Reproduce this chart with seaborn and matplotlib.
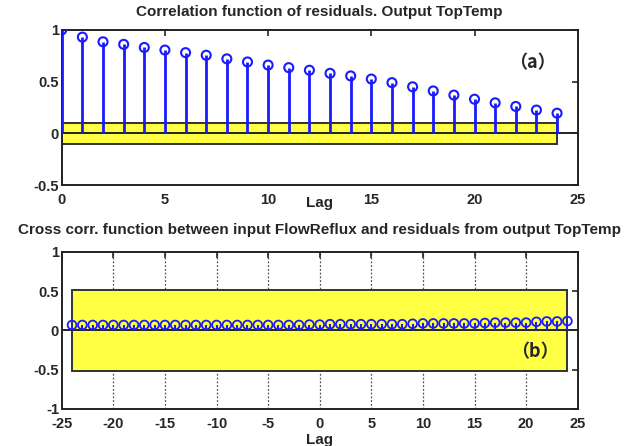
import numpy as np
import pandas as pd
import matplotlib
matplotlib.use("Agg")
import matplotlib.pyplot as plt
import seaborn as sns
from matplotlib.patches import Rectangle

sns.set_style("white")
plt.rcParams['font.family'] = ['Liberation Sans', 'DejaVu Sans']
plt.rcParams['font.weight'] = 'bold'

# --- data ---
lags_a = list(range(0, 25))
corr_a = [1.00, 0.93, 0.885, 0.86, 0.83, 0.805, 0.78, 0.755, 0.72, 0.69,
          0.66, 0.635, 0.61, 0.58, 0.555, 0.525, 0.49, 0.45, 0.41, 0.37,
          0.33, 0.295, 0.26, 0.225, 0.195]
conf_a = 0.1

lags_b = list(range(-24, 25))
corr_b = [0.07, 0.07, 0.07, 0.07, 0.07, 0.07, 0.07, 0.07, 0.07, 0.07,
          0.07, 0.07, 0.07, 0.07, 0.07, 0.07, 0.07, 0.07, 0.07, 0.07,
          0.07, 0.07, 0.07, 0.075, 0.075, 0.08, 0.08, 0.08, 0.08, 0.08,
          0.08, 0.08, 0.08, 0.085, 0.09, 0.09, 0.09, 0.09, 0.09, 0.09,
          0.095, 0.1, 0.1, 0.1, 0.1, 0.11, 0.115, 0.115, 0.12]
conf_b = 0.52

title_a = "Correlation function of residuals. Output TopTemp"
title_b = "Cross corr. function between input FlowReflux and residuals from output TopTemp"
xticks_a = [0, 5, 10, 15, 20, 25]
yticks_a = [-0.5, 0, 0.5, 1]
xticks_b = [-25, -20, -15, -10, -5, 0, 5, 10, 15, 20, 25]
yticks_b = [-1, -0.5, 0, 0.5, 1]

df_a = pd.DataFrame({"lag": lags_a, "corr": corr_a})
df_b = pd.DataFrame({"lag": lags_b, "corr": corr_b})

fig = plt.figure(figsize=(6.3, 4.46), dpi=100)
ax1 = fig.add_axes([0.098, 0.585, 0.819, 0.348])
ax2 = fig.add_axes([0.098, 0.083, 0.819, 0.352])

yellow = "#ffff44"
blue = "#1a1aff"
fs = 11
tfs = 10.5

def style(ax):
    for s in ax.spines.values():
        s.set_linewidth(1.4)
        s.set_color("#222222")
    ax.tick_params(direction="in", top=True, right=True, length=4, width=1.2,
                   labelsize=tfs, pad=2)
    ax.tick_params(axis="x", pad=6)
    for lab in ax.get_xticklabels() + ax.get_yticklabels():
        lab.set_fontweight("bold")

# ---- top panel ----
ax1.add_patch(Rectangle((lags_a[0], -conf_a), lags_a[-1] - lags_a[0], 2 * conf_a,
                        facecolor=yellow, edgecolor="#333333", linewidth=1.4, zorder=1))
ax1.axhline(0, color="#222222", linewidth=1.4, zorder=2)
ax1.vlines(df_a["lag"], 0, df_a["corr"], color=blue, linewidth=2.0, zorder=3)
sns.scatterplot(data=df_a, x="lag", y="corr", ax=ax1, marker="o", s=42,
                facecolor="none", edgecolor=blue, linewidth=1.5, zorder=4)
ax1.set_xlim(0, 25)
ax1.set_ylim(-0.5, 1)
ax1.set_xticks(xticks_a)
ax1.set_yticks(yticks_a)
ax1.set_xticklabels([str(v) for v in xticks_a])
ax1.set_yticklabels(["-0.5", "0", "0.5", "1"])
ax1.set_xlabel("Lag", fontsize=fs, fontweight="bold")
ax1.xaxis.set_label_coords(0.5, -0.07)
ax1.set_ylabel("")
ax1.set_title(title_a, fontsize=fs, fontweight="bold", pad=10)
ax1.text(22.8, 0.68, "（a）", fontsize=13, fontweight="bold",
         family=["Noto Sans CJK SC", "DejaVu Sans"], ha="center", va="center")
style(ax1)

# ---- bottom panel ----
for xv in xticks_b[1:-1]:
    ax2.axvline(xv, color="#555555", linestyle=(0, (1.5, 1.5)), linewidth=0.9, zorder=0)
ax2.add_patch(Rectangle((lags_b[0], -conf_b), lags_b[-1] - lags_b[0], 2 * conf_b,
                        facecolor=yellow, edgecolor="#333333", linewidth=1.4, zorder=1))
ax2.axhline(0, color="#222222", linewidth=1.4, zorder=2)
ax2.vlines(df_b["lag"], 0, df_b["corr"], color=blue, linewidth=1.5, zorder=3)
sns.scatterplot(data=df_b, x="lag", y="corr", ax=ax2, marker="o", s=40,
                facecolor="none", edgecolor=blue, linewidth=1.3, zorder=4)
ax2.set_xlim(-25, 25)
ax2.set_ylim(-1, 1)
ax2.set_xticks(xticks_b)
ax2.set_yticks(yticks_b)
ax2.set_xticklabels([str(v) for v in xticks_b])
ax2.set_yticklabels(["-1", "-0.5", "0", "0.5", "1"])
ax2.set_xlabel("Lag", fontsize=fs, fontweight="bold", labelpad=1)
ax2.set_ylabel("")
ax2.set_title(title_b, fontsize=fs, fontweight="bold", pad=13)
ax2.text(20.8, -0.27, "（b）", fontsize=13, fontweight="bold",
         family=["Noto Sans CJK SC", "DejaVu Sans"], ha="center", va="center")
style(ax2)

fig.savefig("out.png", dpi=100)
